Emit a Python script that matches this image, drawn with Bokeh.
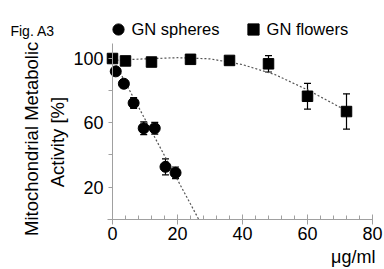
from bokeh.plotting import figure
from bokeh.models import (Range1d, SingleIntervalTicker, FixedTicker, Whisker, TeeHead,
                          ColumnDataSource, Legend, LegendItem, Label)
from bokeh.embed import file_html
from bokeh.resources import INLINE

# ---- data ----
sph_x = [1.0, 3.5, 6.5, 9.6, 13.0, 16.3, 19.4]
sph_y = [92.0, 84.3, 72.3, 56.6, 56.6, 32.6, 28.9]
sph_err = [1.0, 1.0, 3.3, 4.0, 3.6, 5.0, 3.6]

flw_x = [0, 4, 12, 24, 36, 48, 60, 72]
flw_y = [100.0, 98.5, 97.8, 99.5, 98.8, 96.7, 76.5, 67.0]
flw_err = [0.5, 1.0, 1.0, 1.0, 1.0, 5.1, 8.0, 11.0]

sph_fit_x = [0.0, 26.5]
sph_fit_y = [100.0, 0.0]
flw_fit_x = [0, 10, 20, 30, 40, 50, 60, 72]
flw_fit_y = [98.8, 99.8, 100.5, 99.8, 96.2, 90.0, 80.5, 67.5]

y_ticks = [0, 20, 40, 60, 80, 100]
y_labels = {0: "", 20: "20", 40: "", 60: "60", 80: "", 100: "100"}

FONT = "Liberation Sans"

p = figure(width=384, height=269, output_backend="svg", toolbar_location=None,
           x_range=Range1d(-34.46, 83.69), y_range=Range1d(-31.3, 136.1),
           min_border=0, min_border_left=0, min_border_right=0,
           min_border_top=0, min_border_bottom=0)
p.outline_line_color = None
p.xgrid.visible = False
p.ygrid.visible = False
p.background_fill_color = "white"
p.border_fill_color = "white"

AX = "#a0a0a0"

# x axis
xa = p.xaxis[0]
xa.fixed_location = 0
xa.bounds = (-1.6, 80)
xa.ticker = SingleIntervalTicker(interval=20, num_minor_ticks=5)
xa.axis_line_color = AX
xa.major_tick_line_color = AX
xa.minor_tick_line_color = AX
xa.major_tick_in = 5
xa.major_tick_out = 5
xa.minor_tick_in = 4
xa.minor_tick_out = 0
xa.major_label_text_font = FONT
xa.major_label_text_font_size = "18px"
xa.major_label_text_color = "black"
xa.major_label_standoff = 3

# y axis
ya = p.yaxis[0]
ya.fixed_location = 0
ya.bounds = (0, 109.3)
ya.ticker = FixedTicker(ticks=y_ticks)
ya.major_label_overrides = y_labels
ya.axis_line_color = AX
ya.major_tick_line_color = AX
ya.major_tick_in = 0
ya.major_tick_out = 4
ya.minor_tick_line_color = None
ya.major_label_text_font = FONT
ya.major_label_text_font_size = "18px"
ya.major_label_text_color = "black"
ya.major_label_standoff = 5

# fit lines
p.line(sph_fit_x, sph_fit_y, line_color="#555555", line_dash="2 2", line_width=1.2)
p.line(flw_fit_x, flw_fit_y, line_color="#555555", line_dash="2 2", line_width=1.2)

# error bars
sph_src = ColumnDataSource(dict(x=sph_x, y=sph_y,
                                lo=[a - b for a, b in zip(sph_y, sph_err)],
                                hi=[a + b for a, b in zip(sph_y, sph_err)]))
flw_src = ColumnDataSource(dict(x=flw_x, y=flw_y,
                                lo=[a - b for a, b in zip(flw_y, flw_err)],
                                hi=[a + b for a, b in zip(flw_y, flw_err)]))
for src in (sph_src, flw_src):
    p.add_layout(Whisker(source=src, base="x", lower="lo", upper="hi", line_color="black",
                         line_width=1.2,
                         lower_head=TeeHead(size=7, line_color="black", line_width=1.2),
                         upper_head=TeeHead(size=7, line_color="black", line_width=1.2)))

r_sph = p.scatter("x", "y", source=sph_src, marker="circle", size=11,
                  fill_color="black", line_color="black")
r_flw = p.scatter("x", "y", source=flw_src, marker="square", size=10.5,
                  fill_color="black", line_color="black")

legend = Legend(items=[LegendItem(label="GN spheres", renderers=[r_sph]),
                       LegendItem(label="GN flowers", renderers=[r_flw])],
                orientation="horizontal", location=(103.5, 226),
                label_text_font=FONT, label_text_font_size="16.5px",
                label_text_color="black",
                glyph_width=28, glyph_height=28, label_standoff=-6, spacing=19,
                padding=0, margin=0, border_line_color=None,
                background_fill_alpha=0, label_height=28)
p.add_layout(legend, "center")

p.add_layout(Label(x=-31.4, y=117.0, text="Fig. A3", text_font=FONT, text_color="black",
                   text_font_size="14px", text_baseline="middle", text_align="left"))
p.add_layout(Label(x=-25.0, y=50, text="Mitochondrial Metabolic", angle=1.5708,
                   text_font=FONT, text_font_size="18.5px", text_color="black",
                   text_align="center", text_baseline="middle"))
p.add_layout(Label(x=-16.8, y=48, text="Activity [%]", angle=1.5708,
                   text_font=FONT, text_font_size="18.5px", text_color="black",
                   text_align="center", text_baseline="middle"))
p.add_layout(Label(x=80.9, y=-23.8, text="\u03bcg/ml", text_font=FONT, text_color="black",
                   text_font_size="18px", text_align="right", text_baseline="middle"))

open("out.html", "w").write(file_html(p, INLINE))
